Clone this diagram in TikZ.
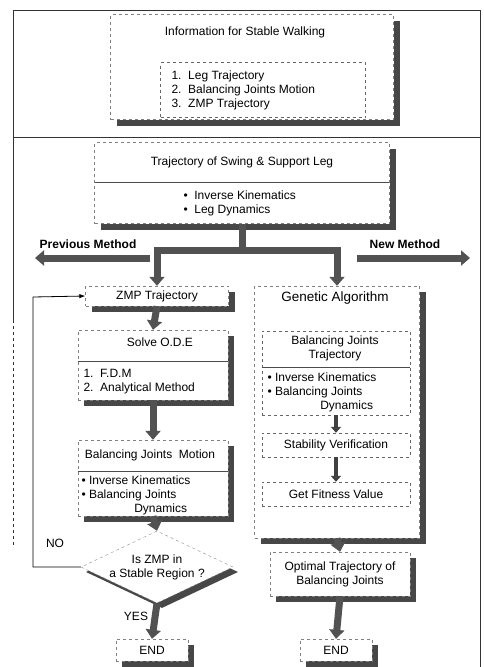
\documentclass[tikz,border=0pt]{standalone}
\usepackage{fontspec}
\setmainfont{Liberation Sans}
\usetikzlibrary{arrows.meta,shapes.geometric}

\tikzset{
	shadowbox/.style={draw=black!50, thin, dashed, fill=white, inner sep=2pt,
		preaction={fill=black!72, solid, transform canvas={shift={(6pt,-6pt)}}}},
	dashbox/.style={draw=black!60, thin, dashed, inner sep=2pt},
	decision/.style={shape=diamond, aspect=2.1, minimum width=152pt, minimum height=72pt,
		inner sep=0pt, align=center, draw=black!45, dashed, fill=white,
		preaction={fill=black!72, solid, transform canvas={shift={(5pt,-5pt)}}}},
	flow/.style={line width=7pt, color=black!68, -{Triangle[length=9pt,width=15pt]}},
	flowbar/.style={line width=7pt, color=black!68},
	smallflow/.style={line width=4pt, color=black!75, -{Triangle[length=6pt,width=10pt]}},
	loopline/.style={thick, -{Latex[length=6pt]}},
	sepline/.style={black!70, thin},
	frameline/.style={black!80, thin},
}

\begin{document}
\begin{tikzpicture}[x=1pt,y=-1pt,font=\fontsize{12}{14}\selectfont]
	\useasboundingbox (0,0) rectangle (483,667);

	% frame
	\draw[frameline] (13,10) -- (480,10) -- (480,667);
	\draw[frameline] (13,137) -- (480,137);
	\draw[frameline] (13,10) -- (13,320);
	\draw[frameline, dashed] (13,320) -- (13,545);

	% information
	\node (info) [shadowbox, minimum width=283pt, minimum height=105pt] at (252,67) {};
	\node (infot) at (245,32) {Information for Stable Walking};
	\node (infol) [dashbox, minimum width=205pt, minimum height=55pt] at (263,90) {};
	\node (infoi) [align=left, anchor=west] at (168,90) {1.\ \ Leg Trajectory\\2.\ \ Balancing Joints Motion\\3.\ \ ZMP Trajectory};

	% swing and support leg
	\node (traj) [shadowbox, minimum width=295pt, minimum height=81pt] at (242,183) {};
	\node (trajt) at (242,162) {Trajectory of Swing \& Support Leg};
	\draw[sepline] (95,182) -- (389,182);
	\node (traji) [align=left, anchor=west] at (180,203) {\textbullet\ \ Inverse Kinematics\\\textbullet\ \ Leg Dynamics};

	% methods
	\coordinate (split) at (242,250);
	\coordinate (prevs) at (150,258);
	\coordinate (preve) at (35,258);
	\coordinate (news) at (357,258);
	\coordinate (newe) at (470,258);
	\node (prevl) [font=\fontsize{12}{14}\selectfont\bfseries] at (88,244) {Previous Method};
	\node (newl) [font=\fontsize{12}{14}\selectfont\bfseries] at (405,244) {New Method};

	% previous method
	\node (zmp) [shadowbox, minimum width=143pt, minimum height=20pt] at (157,296) {ZMP Trajectory};

	\node (ode) [shadowbox, minimum width=150pt, minimum height=70pt] at (153,365) {};
	\node (odet) at (160,342) {Solve O.D.E};
	\draw[sepline] (78,361) -- (228,361);
	\node (odei) [align=left, anchor=west] at (80,382) {1.\ \ F.D.M\\2.\ \ Analytical Method};

	\node (bjm) [shadowbox, minimum width=150pt, minimum height=76pt] at (153,478) {};
	\node (bjmt) at (150,455) {Balancing Joints\ \ Motion};
	\draw[sepline] (78,471) -- (228,471);
	\node (bjmi) [align=left, anchor=north west] at (78,472) {\textbullet\ Inverse Kinematics\\\textbullet\ Balancing Joints\\\hspace{4.4em}Dynamics};

	\node (dec) [decision] at (157,567) {Is ZMP in\\a Stable Region ?};
	\node (endl) [shadowbox, minimum width=72pt, minimum height=22pt] at (152,650) {END};
	\node (nol) at (55,543) {NO};
	\node (yesl) at (136,616) {YES};
	\coordinate (loopc) at (33,297);

	% new method
	\node (ga) [shadowbox, minimum width=165pt, minimum height=252pt] at (337,412) {};
	\node (gat) [font=\fontsize{13.5}{16}\selectfont] at (335,298) {Genetic Algorithm};

	\node (bjt) [dashbox, minimum width=148pt, minimum height=84pt] at (336,373) {};
	\node (bjtt) [align=center] at (335,348) {Balancing Joints\\Trajectory};
	\draw[sepline] (262,367) -- (410,367);
	\node (bjti) [align=left, anchor=north west] at (264,369) {\textbullet\ Inverse Kinematics\\\textbullet\ Balancing Joints\\\hspace{4.4em}Dynamics};

	\node (stab) [dashbox, minimum width=148pt, minimum height=24pt] at (336,445) {Stability Verification};
	\node (fit) [dashbox, minimum width=148pt, minimum height=24pt] at (336,494) {Get Fitness Value};

	\node (opt) [shadowbox, minimum width=140pt, minimum height=44pt, align=center] at (340,574) {Optimal Trajectory of\\Balancing Joints};
	\node (endr) [shadowbox, minimum width=72pt, minimum height=22pt] at (336,650) {END};

	% arrows
	\draw[flowbar] (traj.south) -- (split);
	\draw[flow] (split) -| (zmp.north);
	\draw[flow] (split) -| (ga.north);
	\draw[flow] (prevs) -- (preve);
	\draw[flow] (news) -- (newe);

	\draw[flow] (zmp.south) -- (ode.north);
	\draw[flow] (ode.south) -- (bjm.north);
	\draw[flow] (bjm.south) -- (dec.north);
	\draw[flow] (dec.south) -- (endl.north);
	\draw[loopline] (dec.west) -| (loopc) -- (zmp.west);

	\draw[smallflow] (bjt.south) -- (stab.north);
	\draw[smallflow] (stab.south) -- (fit.north);
	\draw[flow] (ga.south) -- (opt.north);
	\draw[flow] (opt.south) -- (endr.north);
\end{tikzpicture}
\end{document}
